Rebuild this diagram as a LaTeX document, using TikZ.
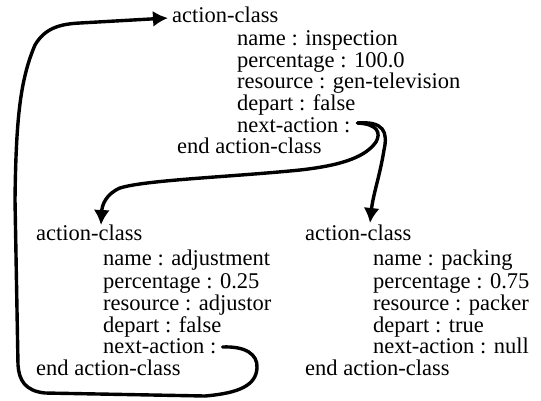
\documentclass[tikz,border=0pt]{standalone}
\usepackage{fontspec}
\setmainfont{Liberation Serif}
\usetikzlibrary{arrows.meta,calc}
\begin{document}
\begin{tikzpicture}[x=1pt,y=-1pt,
  txt/.style={anchor=base west,inner sep=0pt,font=\fontsize{22.5}{27}\selectfont},
  wire/.style={line width=3.4pt,line cap=round,line join=round},
  tip/.style={-{Latex[length=15pt,width=16pt]}}]
\useasboundingbox (0,0) rectangle (541,400);
% top block
\node[txt] (t0) at (172,22)  {action-class};
\node[txt] (t1) at (237,45)  {name : inspection};
\node[txt] (t2) at (237,67)  {percentage : 100.0};
\node[txt] (t3) at (237,88)  {resource : gen-television};
\node[txt] (t4) at (237,110) {depart : false};
\node[txt] (t5) at (237,132) {next-action :};
\node[txt] (t6) at (177,153) {end action-class};
% left block
\node[txt] (l0) at (36,240)  {action-class};
\node[txt] (l1) at (103,265) {name : adjustment};
\node[txt] (l2) at (103,288) {percentage : 0.25};
\node[txt] (l3) at (103,310) {resource : adjustor};
\node[txt] (l4) at (103,332) {depart : false};
\node[txt] (l5) at (103,353) {next-action :};
\node[txt] (l6) at (36,375)  {end action-class};
% right block
\node[txt] (r0) at (305,240) {action-class};
\node[txt] (r1) at (373,265) {name : packing};
\node[txt] (r2) at (373,288) {percentage : 0.75};
\node[txt] (r3) at (373,310) {resource : packer};
\node[txt] (r4) at (373,332) {depart : true};
\node[txt] (r5) at (373,353) {next-action : null};
\node[txt] (r6) at (305,375) {end action-class};
% connectors
\coordinate (ts) at ($(t5.base east)+(7,-9)$);
\coordinate (ls) at ($(l5.base east)+(6,-6)$);
\draw[wire,tip] (ls) .. controls (245,346) and (258,354) .. (257,368)
  .. controls (256,385) and (240,393) .. (205,396) -- (45,393)
  .. controls (25,391) and (19,380) .. (18,365) -- (15,200)
  .. controls (16,120) and (20,80) .. (35,45)
  .. controls (45,28) and (60,24) .. (80,23) -- ($(t0.base west)+(-4,-4)$);
\draw[wire,tip] (ts) .. controls (378,124) and (381,133) .. (376,142)
  .. controls (366,156) and (345,165) .. (300,170)
  .. controls (230,177) and (145,180) .. (120,188)
  .. controls (106,194) and (102,205) .. ($(l0.base west)+(65,-15)$);
\draw[wire,tip] (ts) .. controls (384,121) and (388,132) .. (384,150)
  .. controls (380,175) and (373,195) .. ($(r0.base west)+(65,-17)$);
\end{tikzpicture}
\end{document}
